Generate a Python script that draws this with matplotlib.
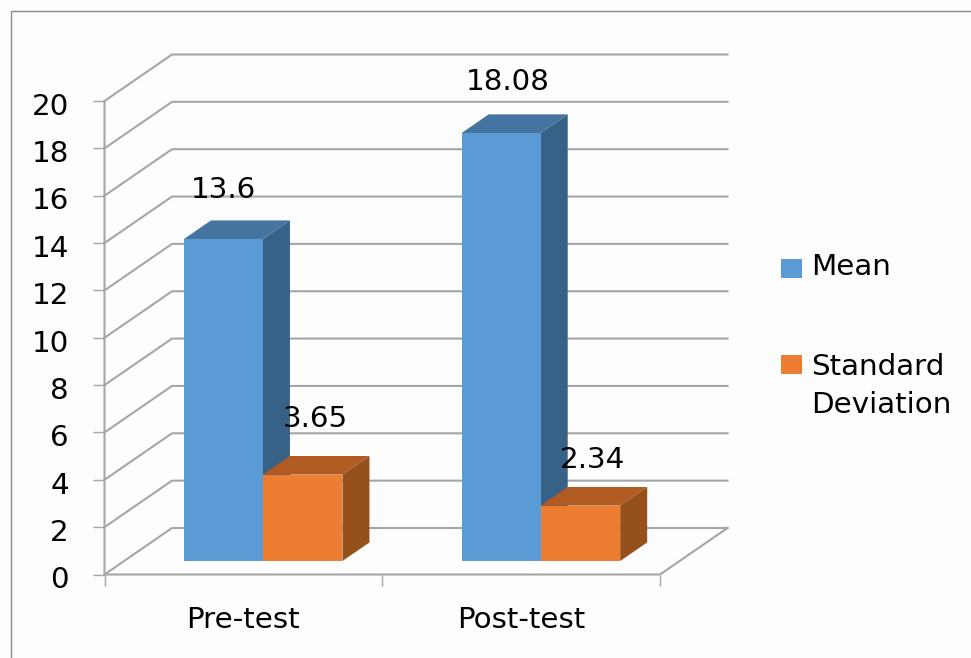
import matplotlib
matplotlib.use("Agg")
import matplotlib.pyplot as plt
from matplotlib.patches import Polygon, Rectangle
from matplotlib.transforms import ScaledTranslation

categories = ["Pre-test", "Post-test"]
series_names = ["Mean", "Standard\nDeviation"]
mean_values = [13.6, 18.08]
sd_values = [3.65, 2.34]
y_ticks = list(range(0, 21, 2))

W, H = 971, 658
plt.rcParams["font.family"] = "DejaVu Sans"
FS = 21.2
GRID = "#A6A6A6"
TXT = "#000000"
fig = plt.figure(figsize=(W / 100, H / 100), dpi=100, facecolor="#FDFDFD")

L, R, T, B = 104.5, 660.0, 101.0, 574.5
ax = fig.add_axes([L / W, 1 - B / H, (R - L) / W, (B - T) / H])
ax.set_xlim(0, 2)
ax.set_ylim(0, 20)
ax.patch.set_visible(False)
for s in ax.spines.values():
    s.set_visible(False)

# oblique projection: depth 0..1 shifts a point right and up
px_x = 2 / (R - L)
px_y = 20 / (B - T)
DX, DY = 67.5 * px_x, 46.5 * px_y
def proj(x, v, d=0.0):
    return (x + d * DX, v + d * DY)

# walls and floor
for v in y_ticks:
    ax.plot(*zip(proj(0, v), proj(0, v, 1), proj(2, v, 1)), color=GRID, lw=1.5, clip_on=False, zorder=1)
ax.plot(*zip(proj(0, 20), proj(0, 0), proj(2, 0), proj(2, 0, 1)), color=GRID, lw=1.5, clip_on=False, zorder=1)

# bars
MEAN_W = 79 * px_x
SD_W = 79.5 * px_x
D0, D1 = 0.29, 0.69
styles = [("#5B9BD5", "#44749F", "#376186"), ("#ED7D31", "#B15A21", "#95501B")]
def bar(x0, w, v, st, z):
    x1 = x0 + w
    front, top, side = st
    ax.add_patch(Polygon([proj(x1, 0, D0), proj(x1, 0, D1), proj(x1, v, D1), proj(x1, v, D0)],
                         fc=side, ec="none", clip_on=False, zorder=z))
    ax.add_patch(Polygon([proj(x0, v, D0), proj(x1, v, D0), proj(x1, v, D1), proj(x0, v, D1)],
                         fc=top, ec="none", clip_on=False, zorder=z))
    ax.add_patch(Polygon([proj(x0, 0, D0), proj(x1, 0, D0), proj(x1, v, D0), proj(x0, v, D0)],
                         fc=front, ec="none", clip_on=False, zorder=z))

label_offsets = [[(0, 49), (13, 56)], [(7, 51), (12, 46)]]
for i, (m, s) in enumerate(zip(mean_values, sd_values)):
    xm = i + 0.5 - MEAN_W
    bar(xm, MEAN_W, m, styles[0], 3 + i)
    bar(i + 0.5, SD_W, s, styles[1], 3.5 + i)
    for (x0, w, v), (ox, oy) in zip([(xm, MEAN_W, m), (i + 0.5, SD_W, s)], label_offsets[i]):
        xb, yb = proj(x0 + w / 2, v, D0)
        ax.annotate(f"{v:g}", (xb, yb), xytext=(ox * 0.72, oy * 0.72), textcoords="offset points",
                    ha="center", va="center", fontsize=FS, color=TXT, zorder=8, annotation_clip=False)

# axes ticks
ax.set_yticks(y_ticks)
ax.set_xticks([0, 1, 2])
ax.set_xticklabels([])
ax.set_xticks([0.5, 1.5], minor=True)
ax.set_xticklabels(categories, minor=True, fontsize=FS, color=TXT)
ax.tick_params(axis="y", length=8.6, width=1.0, color=GRID, pad=17, labelsize=FS, labelcolor=TXT)
ax.tick_params(axis="x", which="major", length=8, width=1.0, color=GRID)
ax.tick_params(axis="x", which="minor", length=0, pad=23)
for lab in ax.get_yticklabels():
    lab.set_transform(lab.get_transform() + ScaledTranslation(0, -2 / 72, fig.dpi_scale_trans))

# outer border (open at right and bottom edge of the picture)
fig.add_artist(plt.Line2D([10.5 / W, 10.5 / W, 1], [0, 1 - 10.5 / H, 1 - 10.5 / H],
                          color="#8C8C8C", lw=1.0, transform=fig.transFigure))

# legend
for name, col, ytop, ytxt, ls in zip(series_names, [styles[0][0], styles[1][0]], [259, 355], [267, 386], [1.1, 1.42]):
    fig.add_artist(Rectangle((780.5 / W, 1 - (ytop + 19) / H), 21 / W, 19 / H, fc=col, ec="none",
                             transform=fig.transFigure))
    fig.text(811 / W, 1 - ytxt / H, name, fontsize=FS, color=TXT, ha="left", va="center", linespacing=ls)

fig.savefig("out.png", dpi=100, facecolor=fig.get_facecolor())
